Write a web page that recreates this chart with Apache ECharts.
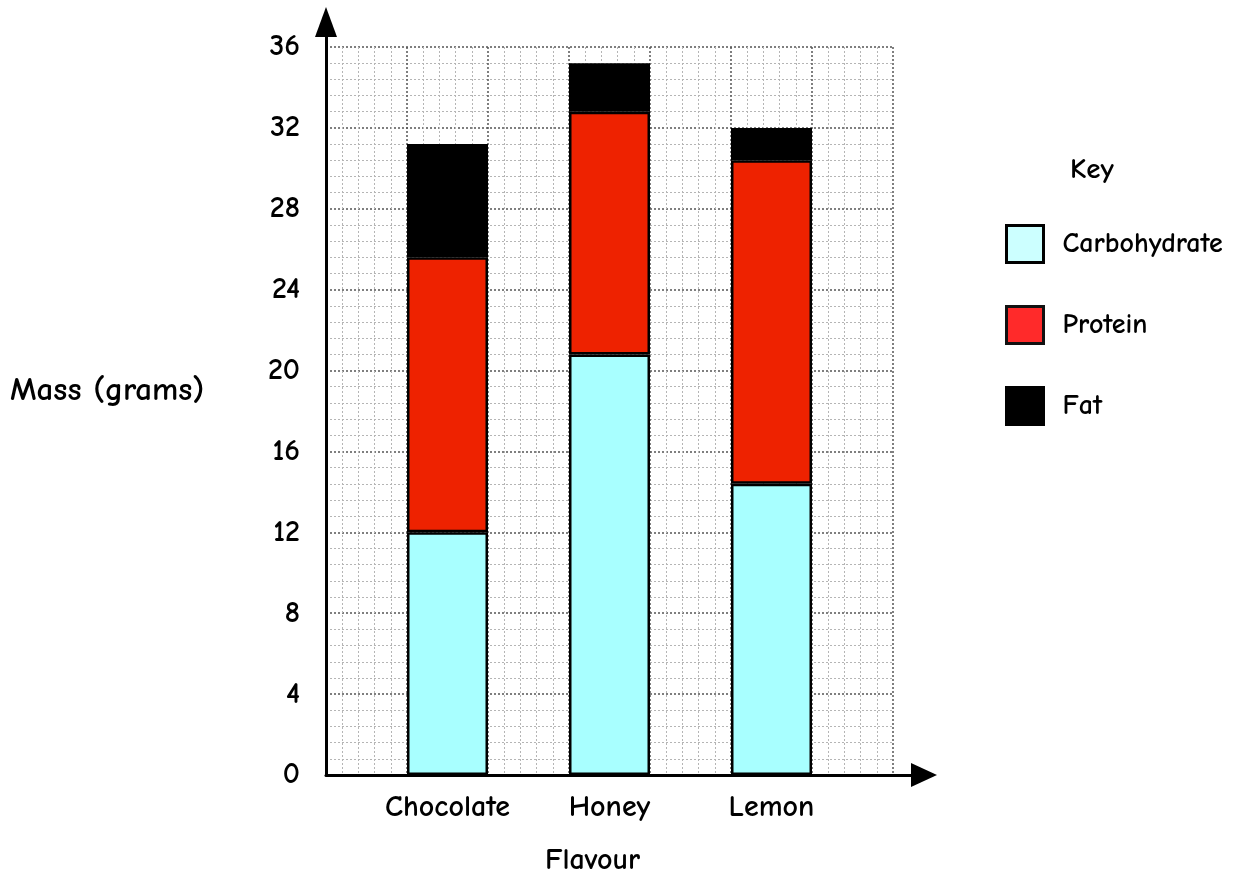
<!DOCTYPE html>
<html>
<head>
<meta charset="utf-8">
<script src="https://cdn.jsdelivr.net/npm/echarts@6/dist/echarts.min.js"></script>
<style>html,body{margin:0;padding:0;background:#fff}#c{width:1241px;height:885px}</style>
</head>
<body>
<div id="c"></div>
<script>
const categories = ['Chocolate', 'Honey', 'Lemon'];
const carbohydrate = [12, 20.8, 14.4];
const protein = [13.6, 12, 16];
const fat = [5.6, 2.4, 1.6];
const seriesNames = ['Carbohydrate', 'Protein', 'Fat'];
const yTicks = { min: 0, max: 36, interval: 4 };

const FONT = "'Comic Sans MS', 'Comic Neue', 'Open Sans', sans-serif";
const FW = 'bold';
// interleave blank columns between categories: _ C _ H _ L _
const axisCats = [''];
categories.forEach(c => { axisCats.push(c); axisCats.push(''); });
function pad(arr) {
  const out = [null];
  arr.forEach(v => { out.push(v); out.push(null); });
  return out;
}

const chart = echarts.init(document.getElementById('c'), null, { renderer: 'canvas' });
const gridMajor = { show: true, lineStyle: { color: '#555', type: [2, 2], width: 1.5 } };
const gridMinor = { show: true, lineStyle: { color: '#b5b5b5', type: [2, 2], width: 1 } };

chart.setOption({
  animation: false,
  textStyle: { fontFamily: FONT },
  grid: [
    { left: 326, top: 47, width: 567, height: 728 },
    { left: 326, top: 22, width: 598, height: 753 }
  ],
  legend: {
    orient: 'vertical', left: 1000, top: 219, itemWidth: 37, itemHeight: 37, itemGap: 41,
    icon: 'rect',
    textStyle: { fontSize: 28, color: '#000', fontFamily: FONT, fontWeight: FW, padding: [0, 0, 0, 14] },
    data: [
      { name: seriesNames[0], itemStyle: { color: '#ccffff', borderColor: '#000', borderWidth: 3 } },
      { name: seriesNames[1], itemStyle: { color: '#ff2a2a', borderColor: '#111', borderWidth: 3 } },
      { name: seriesNames[2], itemStyle: { color: '#000', borderColor: '#000', borderWidth: 3 } }
    ]
  },
  xAxis: [
    { type: 'category', gridIndex: 0, data: axisCats, boundaryGap: true,
      axisLine: { show: false }, axisTick: { show: false }, splitLine: { show: false },
      axisLabel: { interval: 0, fontSize: 30, color: '#000', margin: 18, fontFamily: FONT, fontWeight: FW } },
    { type: 'value', gridIndex: 0, min: 0, max: 7, interval: 1, position: 'top',
      axisLine: { show: false }, axisTick: { show: false }, axisLabel: { show: false },
      splitLine: gridMajor, minorTick: { show: false, splitNumber: 5 }, minorSplitLine: gridMinor },
    { type: 'value', gridIndex: 1, min: 0, max: 1,
      axisLine: { show: true, symbol: ['none', 'triangle'], symbolSize: [24, 26], lineStyle: { color: '#000', width: 3 } },
      axisTick: { show: false }, axisLabel: { show: false }, splitLine: { show: false } }
  ],
  yAxis: [
    { type: 'value', gridIndex: 0, min: yTicks.min, max: yTicks.max, interval: yTicks.interval,
      axisLine: { show: false }, axisTick: { show: false },
      axisLabel: { fontSize: 30, color: '#000', margin: 26, fontFamily: FONT, fontWeight: FW },
      splitLine: gridMajor, minorTick: { show: false, splitNumber: 5 }, minorSplitLine: gridMinor },
    { type: 'value', gridIndex: 1, min: 0, max: 1,
      axisLine: { show: true, symbol: ['none', 'triangle'], symbolSize: [22, 30], lineStyle: { color: '#000', width: 3 } },
      axisTick: { show: false }, axisLabel: { show: false }, splitLine: { show: false } }
  ],
  series: [
    { name: seriesNames[0], type: 'bar', stack: 'm', xAxisIndex: 0, yAxisIndex: 0, barWidth: '100%',
      itemStyle: { color: '#a8ffff', borderColor: '#000', borderWidth: 2.5 }, data: pad(carbohydrate) },
    { name: seriesNames[1], type: 'bar', stack: 'm', xAxisIndex: 0, yAxisIndex: 0, barWidth: '100%',
      itemStyle: { color: '#ee2200', borderColor: '#000', borderWidth: 2.5 }, data: pad(protein) },
    { name: seriesNames[2], type: 'bar', stack: 'm', xAxisIndex: 0, yAxisIndex: 0, barWidth: '100%',
      itemStyle: { color: '#000', borderColor: '#000', borderWidth: 2.5 }, data: pad(fat) }
  ],
  graphic: [
    { type: 'text', left: 10, top: 374, style: { text: 'Mass (grams)', font: FW + ' 33px ' + FONT, fill: '#000' } },
    { type: 'text', left: 545, top: 846, style: { text: 'Flavour', font: FW + ' 30px ' + FONT, fill: '#000' } },
    { type: 'text', left: 1070, top: 155, style: { text: 'Key', font: FW + ' 29px ' + FONT, fill: '#000' } }
  ]
});
</script>
</body>
</html>
